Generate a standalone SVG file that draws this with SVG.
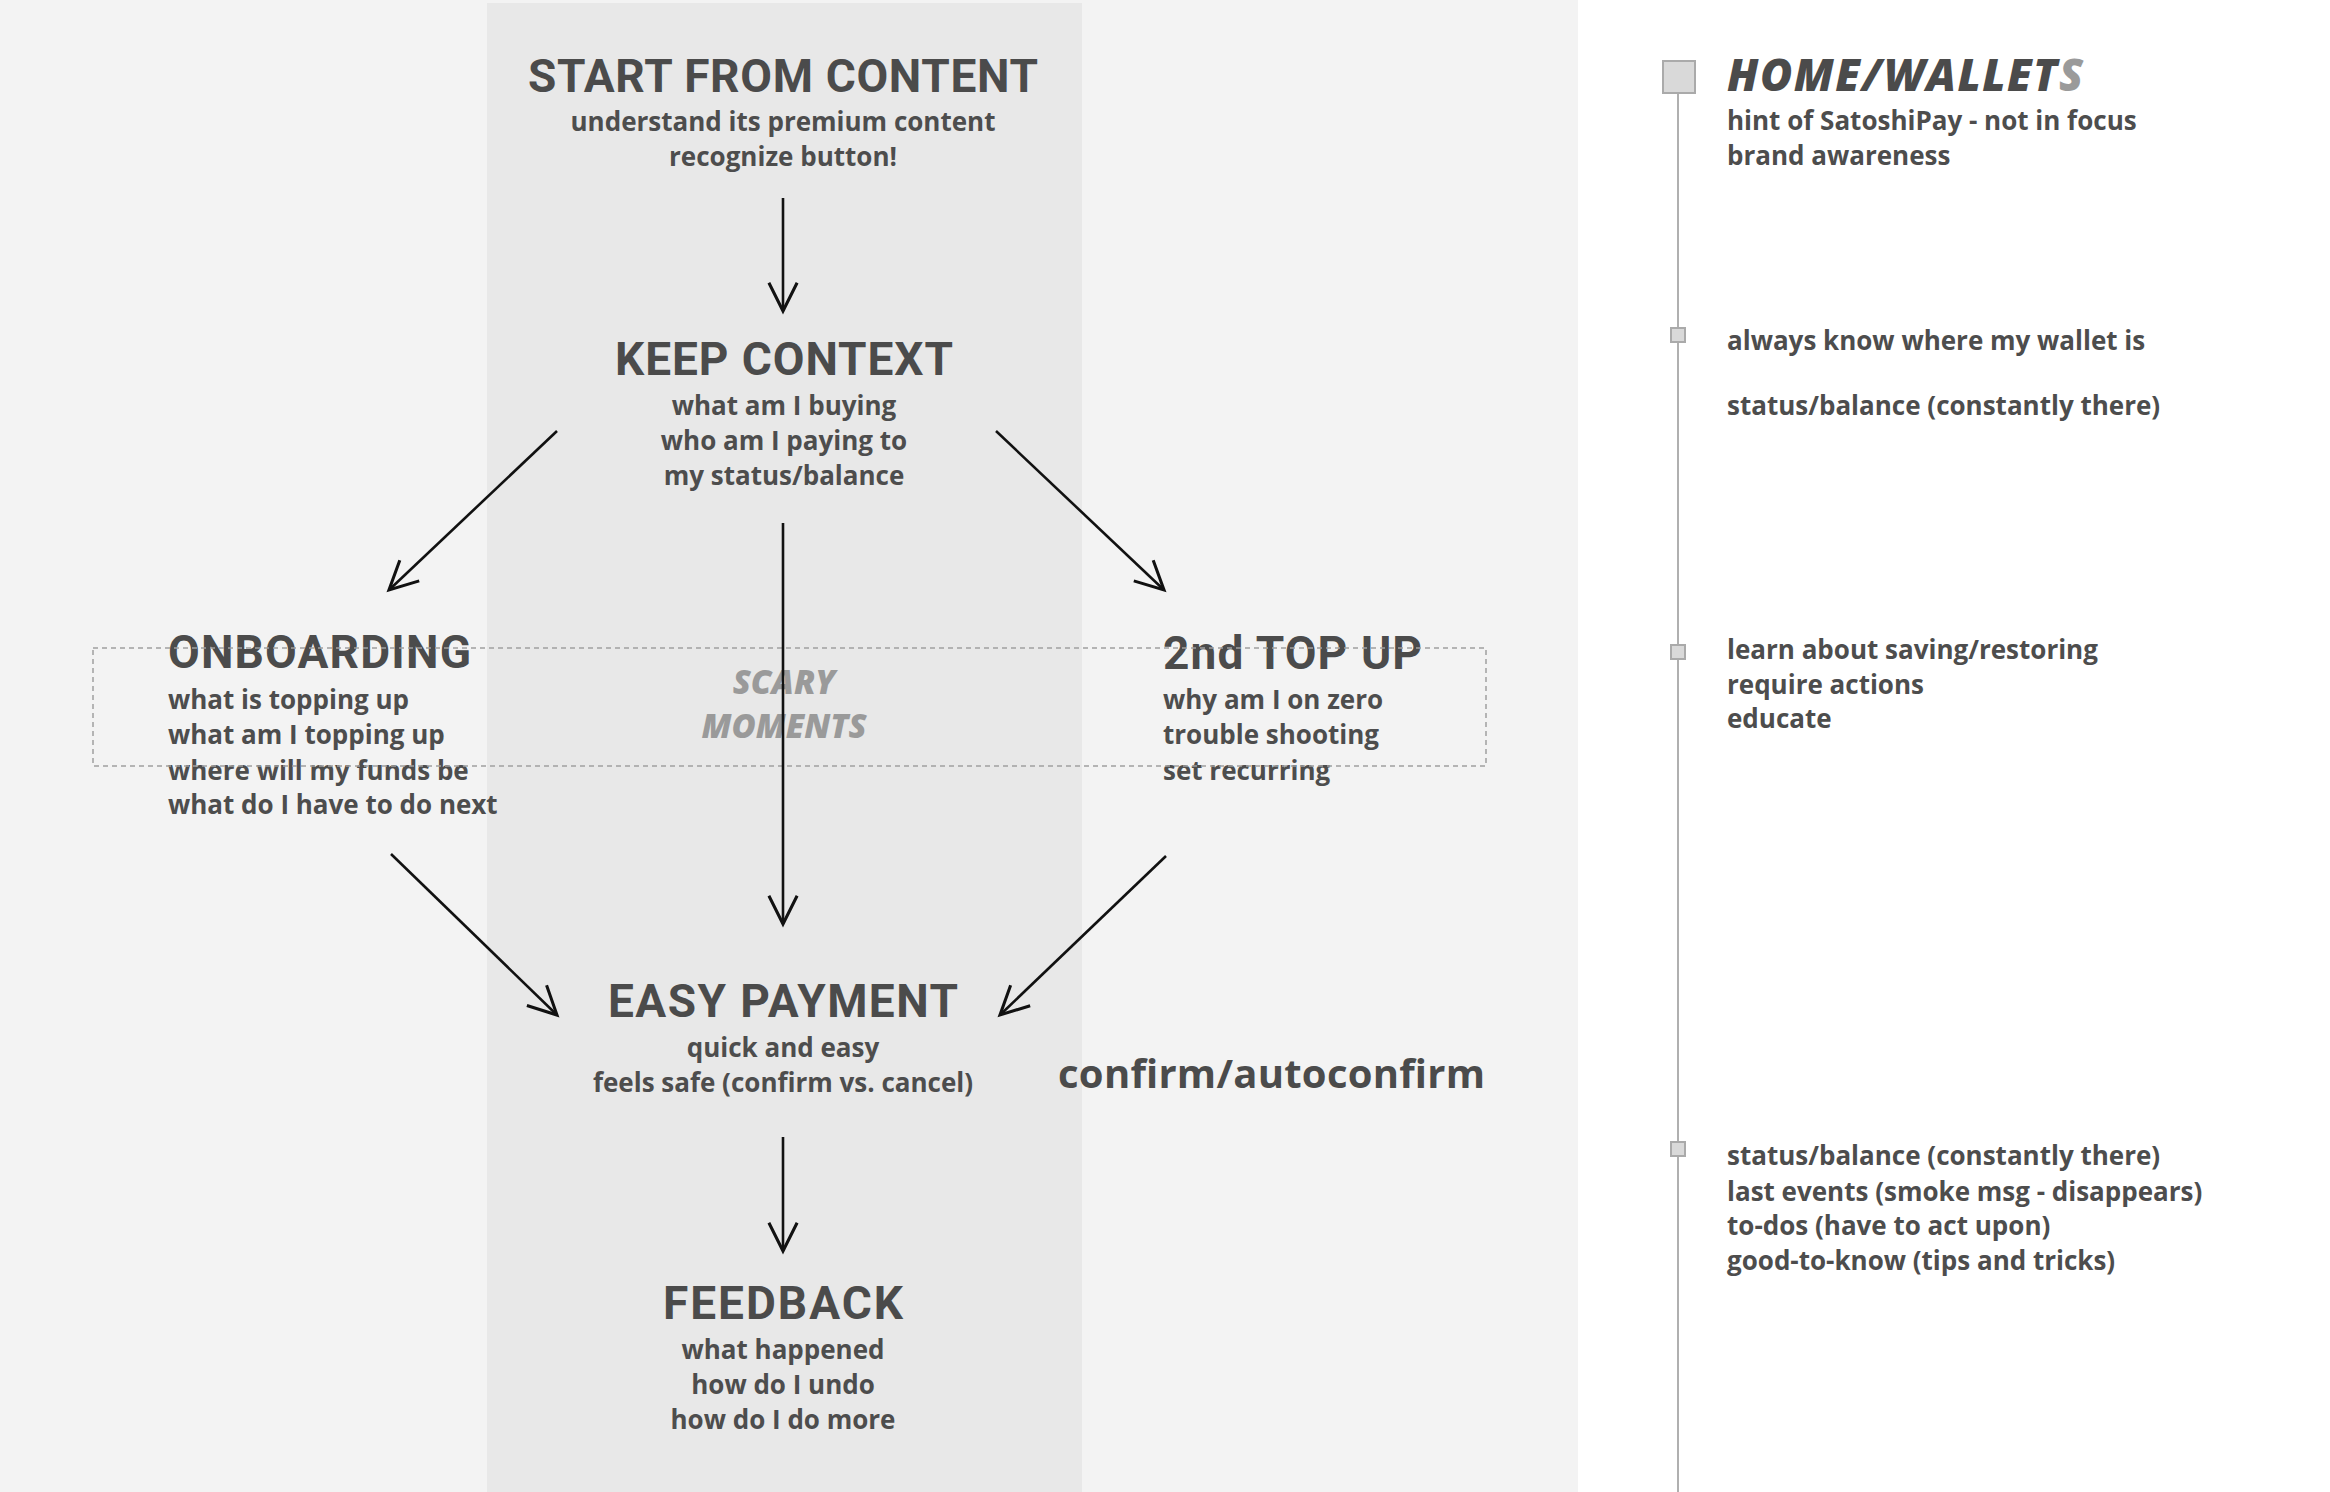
<svg xmlns="http://www.w3.org/2000/svg" width="2330" height="1492" viewBox="0 0 2330 1492">
<style>
.title{font-family:Roboto,"Liberation Sans",sans-serif;font-weight:700;font-size:46px;fill:#4b4b4b}
.body{font-family:"Open Sans","Liberation Sans",sans-serif;font-weight:700;font-size:26px;fill:#4d4d4d}
.c{text-anchor:middle}
.scary{font-family:"Open Sans","Liberation Sans",sans-serif;font-weight:800;font-style:italic;font-size:33px;fill:#9a9a9a;text-anchor:middle}
.conn{stroke:#111;stroke-width:2.6;fill:none;marker-end:url(#ah)}
.tl{stroke:#b0b0b0;stroke-width:2;fill:none}
.sq{fill:#d9d9d9;stroke:#aaaaaa;stroke-width:2}
</style>
<defs>
<marker id="ah" markerUnits="userSpaceOnUse" markerWidth="40" markerHeight="40" viewBox="-30 -15 34 30" refX="0" refY="0" orient="auto">
<path d="M-24,-12 L0,0 L-24,12" fill="none" stroke="#111" stroke-width="2.6"/>
</marker>
</defs>
<rect x="0" y="0" width="2330" height="1492" fill="#ffffff"/>
<rect x="0" y="0" width="1578" height="1492" fill="#f3f3f3"/>
<rect x="487" y="3" width="595" height="1489" fill="#e8e8e8"/>

<g id="start">
<text class="title c" x="783" y="92" textLength="510">START FROM CONTENT</text>
<text class="body c" x="783" y="131">understand its premium content</text>
<text class="body c" x="783" y="166">recognize button!</text>
</g>
<g id="keep-context">
<text class="title c" x="784" y="375" textLength="338">KEEP CONTEXT</text>
<text class="body c" x="784" y="415">what am I buying</text>
<text class="body c" x="784" y="450">who am I paying to</text>
<text class="body c" x="784" y="485">my status/balance</text>
</g>
<g id="scary-moments">
<text class="scary" x="784" y="694">SCARY</text>
<text class="scary" x="784" y="738">MOMENTS</text>
</g>
<g id="onboarding">
<text class="title" x="168" y="668" textLength="303">ONBOARDING</text>
<text class="body" x="168" y="709">what is topping up</text>
<text class="body" x="168" y="744">what am I topping up</text>
<text class="body" x="168" y="780">where will my funds be</text>
<text class="body" x="168" y="814">what do I have to do next</text>
</g>
<g id="second-top-up">
<text class="title" x="1163" y="669" textLength="259">2nd TOP UP</text>
<text class="body" x="1163" y="709">why am I on zero</text>
<text class="body" x="1163" y="744">trouble shooting</text>
<text class="body" x="1163" y="780">set recurring</text>
</g>
<g id="easy-payment">
<text class="title c" x="783" y="1017" textLength="350">EASY PAYMENT</text>
<text class="body c" x="783" y="1057">quick and easy</text>
<text class="body c" x="783" y="1092">feels safe (confirm vs. cancel)</text>
</g>
<g id="confirm-note">
<text x="1058" y="1088" style="font-family:'Open Sans','Liberation Sans',sans-serif;font-weight:700;font-size:40px;fill:#4b4b4b" textLength="427">confirm/autoconfirm</text>
</g>
<g id="feedback">
<text class="title c" x="783" y="1319" textLength="240">FEEDBACK</text>
<text class="body c" x="783" y="1359">what happened</text>
<text class="body c" x="783" y="1394">how do I undo</text>
<text class="body c" x="783" y="1429">how do I do more</text>
</g>

<rect id="scary-zone" x="93" y="648" width="1393" height="118" fill="none" stroke="#a0a0a0" stroke-width="1.5" stroke-dasharray="5,4"/>

<g id="connectors">
<line class="conn" x1="783" y1="198" x2="783" y2="311"/>
<line class="conn" x1="557" y1="431" x2="389" y2="590"/>
<line class="conn" x1="996" y1="431" x2="1164" y2="590"/>
<line class="conn" x1="783" y1="523" x2="783" y2="924"/>
<line class="conn" x1="391" y1="854" x2="557" y2="1015"/>
<line class="conn" x1="1166" y1="856" x2="1000" y2="1015"/>
<line class="conn" x1="783" y1="1137" x2="783" y2="1251"/>
</g>

<g id="timeline">
<line class="tl" x1="1678" y1="93" x2="1678" y2="1492"/>
</g>
<g id="home-wallets">
<rect class="sq" x="1663" y="61" width="32" height="32"/>
<text x="1727" y="91" style="font-family:'Open Sans','Liberation Sans',sans-serif;font-weight:800;font-style:italic;font-size:44px;fill:#4b4b4b" textLength="356">HOME/WALLET<tspan fill="#9a9a9a">S</tspan></text>
<text class="body" x="1727" y="130">hint of SatoshiPay - not in focus</text>
<text class="body" x="1727" y="165">brand awareness</text>
</g>
<g id="step-wallet">
<rect class="sq" x="1671" y="328" width="14" height="14"/>
<text class="body" x="1727" y="350">always know where my wallet is</text>
<text class="body" x="1727" y="415">status/balance (constantly there)</text>
</g>
<g id="step-learn">
<rect class="sq" x="1671" y="645" width="14" height="14"/>
<text class="body" x="1727" y="659">learn about saving/restoring</text>
<text class="body" x="1727" y="694">require actions</text>
<text class="body" x="1727" y="728">educate</text>
</g>
<g id="step-status">
<rect class="sq" x="1671" y="1142" width="14" height="14"/>
<text class="body" x="1727" y="1165">status/balance (constantly there)</text>
<text class="body" x="1727" y="1201">last events (smoke msg - disappears)</text>
<text class="body" x="1727" y="1235">to-dos (have to act upon)</text>
<text class="body" x="1727" y="1270">good-to-know (tips and tricks)</text>
</g>
</svg>
